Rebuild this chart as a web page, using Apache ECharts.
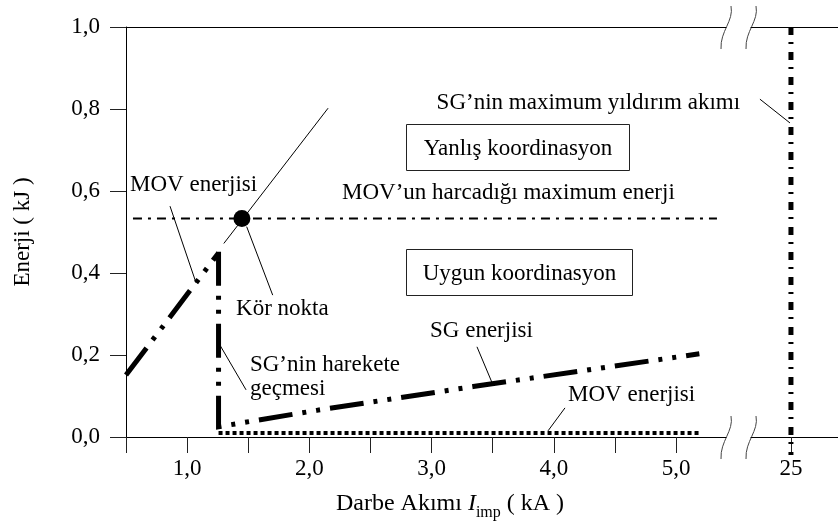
<!DOCTYPE html>
<html>
<head>
<meta charset="utf-8">
<script src="https://cdn.jsdelivr.net/npm/echarts@6/dist/echarts.min.js"></script>
<style>
  html, body { margin: 0; padding: 0; background: #fff; }
  #chart { width: 838px; height: 525px; }
</style>
</head>
<body>
<div id="chart"></div>
<script>
const FONT = '"Liberation Serif", "Times New Roman", serif';
const FS = 23;

// axis ticks and labels
const xTicks = [0.5, 1.0, 1.5, 2.0, 2.5, 3.0, 3.5, 4.0, 4.5, 5.0];
const xTickLabels = [1.0, 2.0, 3.0, 4.0, 5.0];
const xFarTicks = [25];
const yTicks = [0, 0.2, 0.4, 0.6, 0.8, 1.0];

// energy curves, x in kA, y in kJ
const movRise = [[0.5, 0.151], [1.257, 0.449]];
const movRiseExtended = [[1.30, 0.472], [2.153, 0.802]];
const sgEnergy = [[1.257, 0.452], [1.257, 0.025], [2.06, 0.065], [3.34, 0.123], [5.19, 0.203]];
const movAfterTrigger = [[1.257, 0.0098], [5.19, 0.0098]];
const movMaxEnergy = [[0.557, 0.533], [5.334, 0.533]];
const blindPoint = [[1.448, 0.533]];
const sgMaxCurrent = [[25, 1.0], [25, -0.044]];

// annotation texts: anchor in data coordinates (grid 0)
const noteTexts = [
  { text: 'MOV enerjisi', at: [0.533, 0.615], align: 'left' },
  { text: 'Kör nokta', at: [1.400, 0.312], align: 'left' },
  { text: 'SG\u2019nin harekete', at: [1.514, 0.176], align: 'left' },
  { text: 'geçmesi', at: [1.514, 0.118], align: 'left' },
  { text: 'SG enerjisi', at: [2.987, 0.259], align: 'left' },
  { text: 'MOV\u2019un harcadığı maximum enerji', at: [2.267, 0.595], align: 'left' },
  { text: 'SG\u2019nin maximum yıldırım akımı', at: [5.523, 0.815], align: 'right' },
  { text: 'MOV enerjisi', at: [4.116, 0.102], align: 'left' }
];
// leader lines: [grid index, from, to]
const noteLeaders = [
  [0, [0.860, 0.563], [1.073, 0.376]],
  [0, [1.487, 0.513], [1.700, 0.346]],
  [0, [1.253, 0.232], [1.482, 0.115]],
  [0, [3.371, 0.220], [3.502, 0.127]],
  [1, [24.746, 0.824], [24.992, 0.766]],
  [0, [4.091, 0.071], [3.952, 0.015]]
];
// framed region labels: x range, y range
const regionBoxes = [
  { text: 'Yanlış koordinasyon', x: [2.790, 4.615], y: [0.651, 0.763] },
  { text: 'Uygun koordinasyon', x: [2.790, 4.639], y: [0.346, 0.459] }
];

const comma = v => Number(v).toFixed(1).replace('.', ',');
const black = '#000';

const thickDash = [34, 10, 4, 10, 4, 10];

function lineSeries(data, style, extra) {
  return Object.assign({
    type: 'line',
    data: data,
    symbol: 'none',
    showSymbol: false,
    silent: true,
    xAxisIndex: 0,
    yAxisIndex: 0,
    lineStyle: Object.assign({ color: black, cap: 'butt', join: 'miter', opacity: 1 }, style)
  }, extra || {});
}

const chart = echarts.init(document.getElementById('chart'), null, { renderer: 'canvas' });

const option = {
  animation: false,
  backgroundColor: '#fff',
  textStyle: { fontFamily: FONT, color: black },
  grid: [
    { left: 126, top: 27, width: 600, height: 410 },
    { left: 751, top: 27, width: 87, height: 410 }
  ],
  xAxis: [
    {
      gridIndex: 0, type: 'value', position: 'bottom',
      min: 0.5, max: 5.408,
      axisLine: { onZero: false, lineStyle: { color: black, width: 1 } },
      axisTick: { customValues: xTicks, length: 16, lineStyle: { color: '#222', width: 1 } },
      axisLabel: {
        customValues: xTickLabels, formatter: comma, margin: 20,
        fontSize: FS, fontFamily: FONT, color: black
      },
      splitLine: { show: false }
    },
    {
      gridIndex: 0, type: 'value', position: 'top',
      min: 0.5, max: 5.408,
      axisLine: { onZero: false, lineStyle: { color: black, width: 1 } },
      axisTick: { show: false }, axisLabel: { show: false }, splitLine: { show: false }
    },
    {
      gridIndex: 1, type: 'value', position: 'bottom',
      min: 24.673, max: 25.385,
      axisLine: { onZero: false, lineStyle: { color: black, width: 1 } },
      axisTick: { customValues: xFarTicks, length: 16, lineStyle: { color: '#222', width: 1 } },
      axisLabel: {
        customValues: xFarTicks, formatter: v => String(Math.round(v)), margin: 20,
        fontSize: FS, fontFamily: FONT, color: black
      },
      splitLine: { show: false }
    },
    {
      gridIndex: 1, type: 'value', position: 'top',
      min: 24.673, max: 25.385,
      axisLine: { onZero: false, lineStyle: { color: black, width: 1 } },
      axisTick: { show: false }, axisLabel: { show: false }, splitLine: { show: false }
    }
  ],
  yAxis: [
    {
      gridIndex: 0, type: 'value', min: 0, max: 1, interval: 0.2,
      name: 'Enerji ( kJ )', nameLocation: 'middle', nameGap: 92,
      nameTextStyle: { fontSize: FS, fontFamily: FONT, color: black },
      axisLine: { show: true, onZero: false, lineStyle: { color: black, width: 1 } },
      axisTick: { show: true, customValues: yTicks, length: 16, lineStyle: { color: '#222', width: 1 } },
      axisLabel: { formatter: comma, margin: 26, fontSize: FS, fontFamily: FONT, color: black },
      splitLine: { show: false }
    },
    {
      gridIndex: 1, type: 'value', min: 0, max: 1,
      axisLine: { show: false }, axisTick: { show: false },
      axisLabel: { show: false }, splitLine: { show: false }
    }
  ],
  series: [
    lineSeries(movMaxEnergy, { width: 2, type: [9, 6, 3, 6] }),
    lineSeries(movRise, { width: 5, type: thickDash }),
    lineSeries(movRiseExtended, { width: 1 }),
    lineSeries(sgEnergy, { width: 5, type: thickDash }),
    lineSeries(movAfterTrigger, { width: 4, type: [4, 3] }),
    lineSeries(sgMaxCurrent, { width: 5, type: [8, 7, 2, 8] },
      { xAxisIndex: 2, yAxisIndex: 1, clip: false }),
    {
      type: 'scatter', data: blindPoint, symbol: 'circle', symbolSize: 17,
      itemStyle: { color: black, opacity: 1 }, silent: true, xAxisIndex: 0, yAxisIndex: 0
    }
  ]
};

chart.setOption(option);

// annotations placed through the axes' own coordinate conversion
function px(gridIndex, pt) {
  return chart.convertToPixel({ gridIndex: gridIndex }, pt);
}

const graphics = [];

noteTexts.forEach(n => {
  const p = px(0, n.at);
  graphics.push({
    type: 'text', x: p[0], y: p[1], silent: true,
    style: {
      text: n.text, fontSize: FS, fontFamily: FONT, fill: black,
      align: n.align, verticalAlign: 'middle'
    }
  });
});

noteLeaders.forEach(l => {
  const a = px(l[0], l[1]);
  const b = px(l[0], l[2]);
  graphics.push({
    type: 'line', silent: true,
    shape: { x1: a[0], y1: a[1], x2: b[0], y2: b[1] },
    style: { stroke: black, lineWidth: 1 }
  });
});

regionBoxes.forEach(b => {
  const p1 = px(0, [b.x[0], b.y[1]]);
  const p2 = px(0, [b.x[1], b.y[0]]);
  const x = Math.round(p1[0]) + 0.5, y = Math.round(p1[1]) + 0.5;
  const w = Math.round(p2[0] - p1[0]), h = Math.round(p2[1] - p1[1]);
  graphics.push({
    type: 'rect', silent: true,
    shape: { x: x, y: y, width: w, height: h },
    style: { fill: 'none', stroke: '#222', lineWidth: 1 }
  });
  graphics.push({
    type: 'text', silent: true, x: x + w / 2, y: y + h / 2 + 1,
    style: {
      text: b.text, fontSize: FS, fontFamily: FONT, fill: black,
      align: 'center', verticalAlign: 'middle'
    }
  });
});

// axis break marks at both ends of the gap between the two grids
const breakLeft = px(0, [5.408, 0])[0];
const breakRight = px(1, [24.673, 0])[0];
const yBottom = px(0, [1, 0])[1];
const yTop = px(0, [1, 1])[1];
[breakLeft, breakRight].forEach(cx => {
  [yTop, yBottom].forEach(cy => {
    graphics.push({
      type: 'bezierCurve', silent: true,
      shape: {
        x1: cx + 5, y1: cy - 21,
        cpx1: cx + 8, cpy1: cy - 6,
        cpx2: cx - 6, cpy2: cy + 4,
        x2: cx - 5, y2: cy + 22
      },
      style: { stroke: '#444', lineWidth: 1, fill: 'none' }
    });
  });
});

// horizontal axis title with italic symbol and subscript
graphics.push({
  type: 'text', silent: true, x: 450, y: 504,
  style: {
    text: '{a|Darbe Akımı }{i|I}{s|imp}{a| ( kA )}',
    align: 'center', verticalAlign: 'middle',
    rich: {
      a: { fontSize: 24, fontFamily: FONT, fill: black, lineHeight: 34 },
      i: { fontSize: 24, fontFamily: FONT, fontStyle: 'italic', fill: black, lineHeight: 34 },
      s: { fontSize: 16, fontFamily: FONT, fill: black, lineHeight: 20, verticalAlign: 'bottom' }
    }
  }
});

chart.setOption({ graphic: graphics });
</script>
</body>
</html>
